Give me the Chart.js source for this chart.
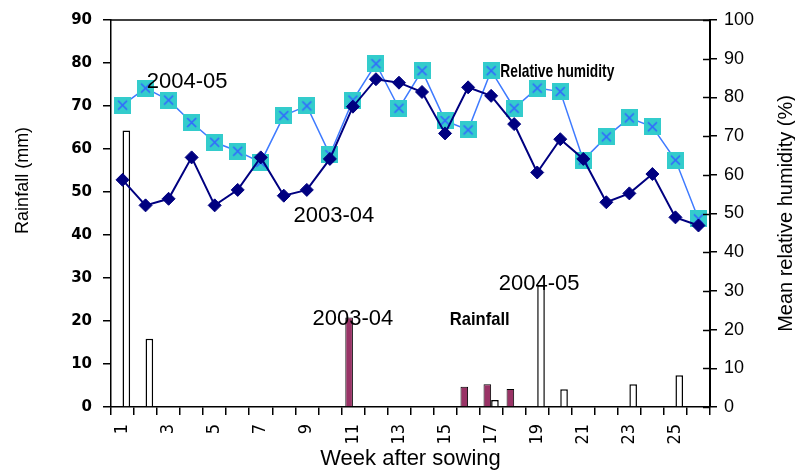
<!DOCTYPE html>
<html>
<head>
<meta charset="utf-8">
<script src="https://cdn.jsdelivr.net/npm/chart.js@4"></script>
<style>
  html, body { margin: 0; padding: 0; background: #fff; }
  canvas { display: block; }
</style>
</head>
<body>
<canvas id="rainChart" width="795" height="470"></canvas>
<script>
// Week after sowing
const weeks = ['1','2','3','4','5','6','7','8','9','10','11','12','13','14','15','16','17','18','19','20','21','22','23','24','25','26'];

// Weekly rainfall (mm)
const rain0304 = [0, 0, 0, 0, 0, 0, 0, 0, 0, 0, 20.8, 0, 0, 0, 0, 4.7, 5.3, 4.2, 0, 0, 0, 0, 0, 0, 0, 0];
const rain0405 = [64.3, 15.9, 0, 0, 0, 0, 0, 0, 0, 0, 0, 0, 0, 0, 0, 0, 1.6, 0, 28.3, 4.1, 0, 0, 5.3, 0, 7.4, 0];

// Mean relative humidity (%)
const rh0304 = [58.7, 52.1, 53.8, 64.5, 52.1, 56.1, 64.5, 54.6, 56.1, 64.1, 77.6, 84.7, 83.8, 81.4, 70.7, 82.6, 80.4, 73.1, 60.6, 69.2, 64.1, 52.9, 55.2, 60.2, 49.0, 46.9];
const rh0405 = [78.0, 82.4, 79.3, 73.5, 68.4, 66.1, 63.2, 75.3, 77.8, 65.2, 79.3, 88.7, 77.2, 86.9, 74.0, 71.6, 86.9, 77.2, 82.4, 81.5, 63.8, 69.8, 74.7, 72.4, 63.8, 48.6];

// text labels placed in the plot, anchored at (week, rainfall mm)
const notes = [
    { text: '2004-05', week: 2.05, mm: 74.2, font: '22px "Liberation Sans", Arial' },
    { text: '2003-04', week: 8.42, mm: 43.1, font: '22px "Liberation Sans", Arial' },
    { text: 'Relative humidity', week: 17.4, mm: 76.8, font: 'bold 19px "Liberation Sans", Arial', maxWidth: 114 },
    { text: '2003-04', week: 9.25, mm: 19.0, font: '22px "Liberation Sans", Arial' },
    { text: 'Rainfall', week: 15.2, mm: 19.0, font: 'bold 19px "Liberation Sans", Arial', maxWidth: 60 },
    { text: '2004-05', week: 17.33, mm: 27.1, font: '22px "Liberation Sans", Arial' }
];

// turquoise square with a blue cross for the 2004-05 humidity marker
function squareCross() {
    const c = document.createElement('canvas');
    c.width = 17;
    c.height = 17;
    const g = c.getContext('2d');
    g.fillStyle = '#33CCCC';
    g.fillRect(0, 0, 17, 17);
    g.strokeStyle = '#3366FF';
    g.lineWidth = 1.6;
    g.beginPath();
    g.moveTo(4, 4); g.lineTo(13, 13);
    g.moveTo(13, 4); g.lineTo(4, 13);
    g.stroke();
    return c;
}

const extras = {
    id: 'extras',
    afterDraw(chart) {
        const { ctx, chartArea: a, scales } = chart;
        const x = scales.x, y = scales.y, y1 = scales.y1;
        ctx.save();

        // top frame line
        ctx.strokeStyle = '#000';
        ctx.lineWidth = 1.5;
        ctx.beginPath();
        ctx.moveTo(a.left, a.top);
        ctx.lineTo(a.right, a.top);
        ctx.stroke();

        // right axis ticks also go inward
        ctx.lineWidth = 1.5;
        y1.ticks.forEach(t => {
            const py = Math.round(y1.getPixelForValue(t.value)) + 0.5;
            ctx.beginPath();
            ctx.moveTo(a.right - 7, py);
            ctx.lineTo(a.right, py);
            ctx.stroke();
        });

        ctx.fillStyle = '#000';
        ctx.textBaseline = 'alphabetic';
        ctx.textAlign = 'left';
        notes.forEach(n => {
            ctx.font = n.font;
            const px = x.getPixelForValue(n.week - 1);
            const py = y.getPixelForValue(n.mm);
            if (n.maxWidth) ctx.fillText(n.text, px, py, n.maxWidth);
            else ctx.fillText(n.text, px, py);
        });

        // vertical axis titles, both reading bottom to top
        ctx.textAlign = 'center';
        ctx.textBaseline = 'middle';
        ctx.save();
        ctx.translate(23, y.getPixelForValue(52.7));
        ctx.rotate(-Math.PI / 2);
        ctx.font = '18px "Liberation Sans", Arial';
        ctx.fillText('Rainfall (mm)', 0, 0);
        ctx.restore();

        ctx.save();
        ctx.translate(786, (a.top + a.bottom) / 2);
        ctx.rotate(-Math.PI / 2);
        ctx.font = '20px "Liberation Sans", Arial';
        ctx.fillText('Mean relative humidity (%)', 0, 0);
        ctx.restore();

        ctx.restore();
    }
};

const ctx = document.getElementById('rainChart').getContext('2d');
const rainChart = new Chart(ctx, {
    type: 'bar',
    data: {
        labels: weeks,
        datasets: [
            {
                type: 'line',
                label: 'RH 2003-04',
                data: rh0304,
                yAxisID: 'y1',
                borderColor: '#000080',
                borderWidth: 2,
                backgroundColor: '#000080',
                pointStyle: 'rectRot',
                pointRadius: 6.5,
                pointBorderWidth: 1,
                tension: 0,
                order: 0
            },
            {
                type: 'line',
                label: 'RH 2004-05',
                data: rh0405,
                yAxisID: 'y1',
                borderColor: '#3F7BFF',
                borderWidth: 1.5,
                pointStyle: squareCross(),
                tension: 0,
                order: 1
            },
            {
                label: 'Rainfall 2003-04',
                data: rain0304,
                yAxisID: 'y',
                backgroundColor: '#993366',
                borderColor: '#000',
                borderWidth: 1,
                borderSkipped: 'bottom',
                categoryPercentage: 0.66,
                barPercentage: 1,
                order: 2
            },
            {
                label: 'Rainfall 2004-05',
                data: rain0405,
                yAxisID: 'y',
                backgroundColor: '#fff',
                borderColor: '#000',
                borderWidth: 1.5,
                borderSkipped: 'bottom',
                categoryPercentage: 0.66,
                barPercentage: 1,
                order: 2
            }
        ]
    },
    options: {
        responsive: false,
        animation: false,
        layout: { padding: { top: 19, left: 0, right: 0, bottom: 0 } },
        plugins: {
            legend: { display: false },
            tooltip: { enabled: false }
        },
        scales: {
            x: {
                afterFit: s => { s.height = 63; },
                border: { display: true, color: '#000', width: 1.5 },
                grid: { display: true, offset: true, drawOnChartArea: false, drawTicks: true, tickLength: 8, color: '#000', lineWidth: 1.5 },
                ticks: {
                    autoSkip: false,
                    minRotation: 90,
                    maxRotation: 90,
                    padding: 9,
                    color: '#000',
                    font: { family: '"Liberation Sans Narrow", "DejaVu Sans Condensed", "Liberation Sans"', size: 18 },
                    callback: (v, i) => (i % 2 === 0 ? weeks[i] : '')
                },
                title: {
                    display: true,
                    text: 'Week after sowing',
                    color: '#000',
                    padding: 0,
                    font: { family: '"Liberation Sans", Arial', size: 22, lineHeight: 1 }
                }
            },
            y: {
                position: 'left',
                min: 0,
                max: 90,
                afterFit: s => { s.width = 111; },
                border: { display: true, color: '#000', width: 1.5 },
                grid: { display: true, drawOnChartArea: false, drawTicks: true, tickLength: 8, color: '#000', lineWidth: 1.5 },
                ticks: {
                    stepSize: 10,
                    padding: 11,
                    color: '#000',
                    font: { family: '"DejaVu Sans"', size: 15, weight: 'bold' }
                }
            },
            y1: {
                position: 'right',
                min: 0,
                max: 100,
                afterFit: s => { s.width = 85; },
                border: { display: true, color: '#000', width: 2 },
                grid: { display: true, drawOnChartArea: false, drawTicks: true, tickLength: 7, color: '#000', lineWidth: 1.5 },
                ticks: {
                    stepSize: 10,
                    padding: 7,
                    color: '#000',
                    font: { family: '"Liberation Sans", Arial', size: 18 }
                }
            }
        }
    },
    plugins: [extras]
});
</script>
</body>
</html>
